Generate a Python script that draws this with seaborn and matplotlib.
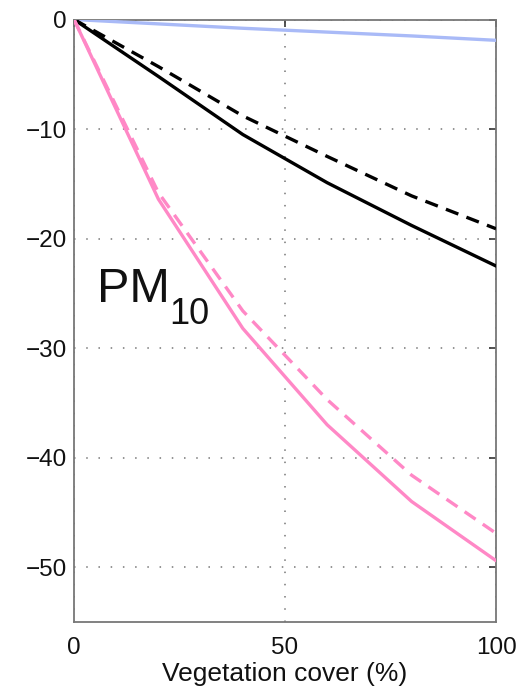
import numpy as np
import pandas as pd
import matplotlib
matplotlib.use('Agg')
import matplotlib.pyplot as plt
import seaborn as sns

# Values
cover = [0, 20, 40, 60, 80, 100]
blue_line = [0, -0.4, -0.8, -1.15, -1.5, -1.9]
black_solid = [0, -5.2, -10.5, -14.9, -18.8, -22.5]
black_dashed = [0, -4.3, -8.8, -12.5, -16.1, -19.1]
pink_solid = [0, -16.4, -28.2, -37.0, -44.0, -49.4]
pink_dashed = [0, -15.8, -26.6, -34.7, -41.6, -46.9]

x_ticks = [0, 50, 100]
y_ticks = [0, -10, -20, -30, -40, -50]

series = {
    'blue': blue_line,
    'black_solid': black_solid,
    'black_dashed': black_dashed,
    'pink_solid': pink_solid,
    'pink_dashed': pink_dashed,
}
rows = []
for name, vals in series.items():
    for xv, yv in zip(cover, vals):
        rows.append({'cover': xv, 'change': yv, 'series': name})
df = pd.DataFrame(rows)

sns.set_style('white')
plt.rcParams['font.family'] = ['Liberation Sans', 'DejaVu Sans']

fig = plt.figure(figsize=(5.31, 6.93), dpi=100)
ax = fig.add_axes([74 / 531, 71 / 693, 422 / 531, 602.5 / 693])

palette = {
    'blue': '#a9baf7',
    'black_solid': '#000000',
    'black_dashed': '#000000',
    'pink_solid': '#ff88c6',
    'pink_dashed': '#ff88c6',
}
dashes = {
    'blue': '',
    'black_solid': '',
    'black_dashed': (4, 2.6),
    'pink_solid': '',
    'pink_dashed': (4, 2.6),
}
sns.lineplot(data=df, x='cover', y='change', hue='series', style='series',
             palette=palette, dashes=dashes, linewidth=2.4, legend=False,
             ax=ax, zorder=3)

ax.set_xlim(0, 100)
ax.set_ylim(-55, 0)
ax.set_xticks(x_ticks)
ax.set_yticks(y_ticks)
ax.set_yticklabels([str(v).replace('-', '\u2212') for v in y_ticks])
ax.grid(True, linestyle=(0, (1, 7)), color='#777777', linewidth=1.1)
ax.tick_params(direction='in', length=5, width=1.3, color='#444444',
               top=True, right=True, labelsize=17.5, labelcolor='#111111')
ax.tick_params(axis='x', pad=11)
ax.tick_params(axis='y', pad=5)
for sp in ax.spines.values():
    sp.set_color('#777777')
    sp.set_linewidth(1.3)

ax.set_xlabel('Vegetation cover (%)', fontsize=19, labelpad=2, color='#111111')
ax.set_ylabel('')

ax.text(5.4, -25.75, 'PM', fontsize=35, color='#111111', ha='left', va='baseline')
ax.text(22.5, -27.8, '10', fontsize=26, color='#111111', ha='left', va='baseline')

fig.savefig('out.png', dpi=100)
